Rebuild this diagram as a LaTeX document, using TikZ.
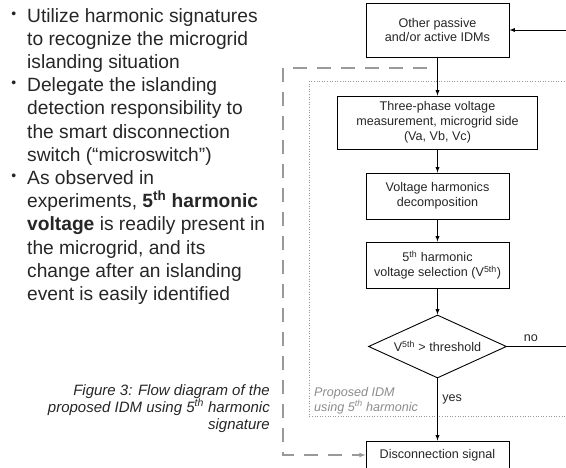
\documentclass[tikz,border=0pt]{standalone}
\usepackage{fontspec}
\setmainfont{Liberation Sans}
\usepackage{tikz}
\usetikzlibrary{arrows,shapes.geometric,positioning,calc}

\newcommand{\bul}{\raisebox{0.4ex}{\fontsize{14}{14}\selectfont\textbullet}\hspace{11pt}}
\newcommand{\fifth}{5\textsuperscript{th}}

\begin{document}
\begin{tikzpicture}[x=1pt,y=-1pt,>=latex]
    % Colors
    \colorlet{textcolor}{black!85}
    \colorlet{idmcolor}{black!45}
    \colorlet{linkcolor}{black!40}

    % Styles
    \tikzstyle{flow}=[font=\fontsize{12.6}{14.8}\selectfont,align=center,text=textcolor]
    \tikzstyle{flow box}=[flow,draw,line width=0.9pt,inner sep=0pt,minimum width=143pt]
    \tikzstyle{decision}=[flow,draw,line width=0.9pt,diamond,shape aspect=2.2,inner sep=0pt,
      minimum width=138pt,minimum height=63pt]
    \tikzstyle{flow line}=[line width=0.9pt,->]
    \tikzstyle{idm border}=[linkcolor,line width=0.6pt,dash pattern=on 1pt off 1.6pt]
    \tikzstyle{idm link}=[linkcolor,line width=1.1pt,dash pattern=on 14pt off 10pt,->]

    % Picture size
    \useasboundingbox (0,0) rectangle (566,468);
    \clip (0,0) rectangle (566,468);

    % Left hand text
    \node[anchor=north west,inner sep=0pt,align=left,text=textcolor,
          font=\fontsize{19.2}{23.2}\selectfont] (points) at (27,8)
      {\llap{\bul}Utilize harmonic signatures\\
       to recognize the microgrid\\
       islanding situation\\
       \llap{\bul}Delegate the islanding\\
       detection responsibility to\\
       the smart disconnection\\
       switch (“microswitch”)\\
       \llap{\bul}As observed in\\
       experiments, \textbf{\fifth{} harmonic}\\
       \textbf{voltage} is readily present in\\
       the microgrid, and its\\
       change after an islanding\\
       event is easily identified};

    \node[anchor=north east,inner sep=0pt,align=right,text=textcolor,
          font=\fontsize{15}{17}\selectfont\itshape] (caption) at (270,384)
      {Figure 3: Flow diagram of the\\
       proposed IDM using \fifth{} harmonic\\
       signature};

    % The flow diagram
    \draw[idm border] (309,81) rectangle (575,416);
    \node[anchor=north west,inner sep=0pt,align=left,text=idmcolor,
          font=\fontsize{12.6}{14.8}\selectfont\itshape] (idmname) at (314,387)
      {Proposed IDM\\ using \fifth{} harmonic};

    \node[flow box,minimum height=54pt] (other) at (437.5,30)
      {Other passive\\ and/or active IDMs};
    \node[flow box,minimum width=200pt,minimum height=53pt] (meas) at (437.5,122.5)
      {Three-phase voltage\\ measurement, microgrid side\\ (Va, Vb, Vc)};
    \node[flow box,minimum height=46pt] (decomp) at (437.5,196)
      {Voltage harmonics\\ decomposition};
    \node[flow box,minimum height=46pt] (select) at (437.5,265)
      {\fifth{} harmonic\\ voltage selection (V\textsuperscript{5th})};
    \node[decision] (cond) at (437.5,346.5)
      {V\textsuperscript{5th} > threshold};
    \node[flow box,minimum height=28pt] (disc) at (437.5,455)
      {Disconnection signal};

    \coordinate (noend) at (570,346.5);
    \coordinate (back) at (570,30);
    \coordinate (dtop) at (427,68);
    \coordinate (dcorner) at (283,68);

    \draw[flow line] (other) -- (meas);
    \draw[flow line] (meas) -- (decomp);
    \draw[flow line] (decomp) -- (select);
    \draw[flow line] (select) -- (cond);
    \draw[flow line] (cond) -- node[flow,right=1pt,pos=0.33] {yes} (disc);
    \draw[line width=0.9pt] (cond.east) -- node[flow,above=1pt,pos=0.38] {no} (noend);
    \draw[flow line] (back) -- (other);

    \draw[idm link] (dtop) -- (dcorner) |- (disc.west);
\end{tikzpicture}
\end{document}
